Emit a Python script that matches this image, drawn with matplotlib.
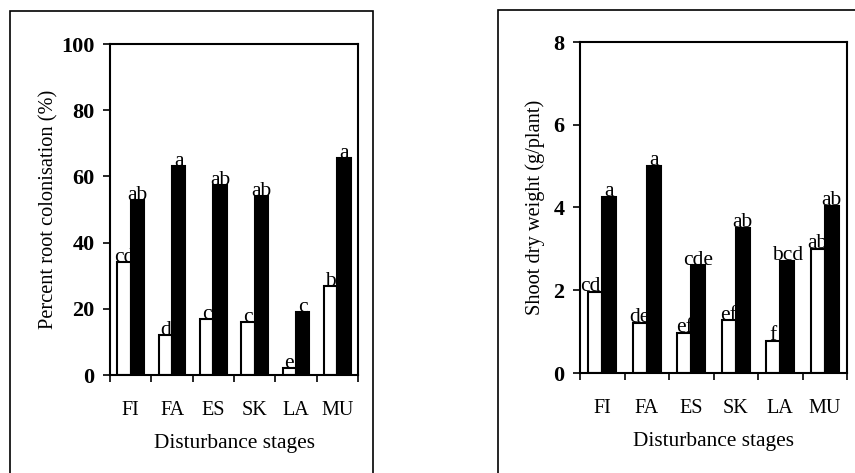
import numpy as np
import matplotlib.pyplot as plt
from matplotlib.patches import Rectangle

plt.rcParams['font.family'] = ['Liberation Serif', 'DejaVu Serif']

stages = ['FI', 'FA', 'ES', 'SK', 'LA', 'MU']

# left panel: root colonisation
col_open = [34, 12, 17, 16, 2, 27]
col_filled = [53, 63, 57.5, 54, 19, 65.5]
col_open_lab = ['cd', 'd', 'c', 'c', 'e', 'b']
col_filled_lab = ['ab', 'a', 'ab', 'ab', 'c', 'a']

# right panel: shoot dry weight
sdw_open = [1.95, 1.2, 0.97, 1.27, 0.78, 3.0]
sdw_filled = [4.25, 5.0, 2.6, 3.5, 2.7, 4.03]
sdw_open_lab = ['cde', 'de', 'ef', 'ef', 'f', 'ab']
sdw_filled_lab = ['a', 'a', 'cde', 'ab', 'bcd', 'ab']

fig = plt.figure(figsize=(8.55, 4.73), dpi=100)

# outer frames of the two panels
for x0, y0, w, h in [(10/855, -0.05, 363/855, 1 - 11/473 + 0.05),
                     (498/855, -0.05, 400/855, 1 - 10/473 + 0.05)]:
    fig.patches.append(Rectangle((x0, y0), w, h, transform=fig.transFigure,
                                 fill=False, lw=1.2, ec='black'))


def panel(rect, op, fi, oplab, filab, ymax, step, ylabel, offs, lpad):
    ax = fig.add_axes(rect)
    x = np.arange(len(stages))
    w = 0.32
    ax.bar(x + 0.18 + w/2, op, w, color='white', edgecolor='black', lw=1.5, zorder=2)
    ax.bar(x + 0.50 + w/2, fi, w, color='black', edgecolor='black', lw=1.5, zorder=2)
    for i in range(len(stages)):
        ax.text(x[i] + 0.18 + w/2, op[i] + offs, oplab[i], ha='center', va='bottom',
                fontsize=15.5, zorder=3)
        ax.text(x[i] + 0.50 + w/2, fi[i] + offs, filab[i], ha='center', va='bottom',
                fontsize=15.5, zorder=3)
    ax.set_xlim(0, len(stages))
    ax.set_ylim(0, ymax)
    ax.set_yticks(np.arange(0, ymax + step/2, step))
    ax.set_yticklabels([str(int(v)) for v in np.arange(0, ymax + step/2, step)],
                       fontweight='bold', fontsize=16)
    ax.set_xticks(np.arange(len(stages) + 1))
    ax.set_xticklabels([])
    ax.set_xticks(x + 0.5, minor=True)
    ax.set_xticklabels(stages, minor=True, fontsize=14.5)
    ax.tick_params(axis='x', which='minor', length=0, pad=19)
    ax.tick_params(axis='x', which='major', length=5, width=1.2)
    ax.tick_params(axis='y', length=5, width=1.2, pad=6)
    for s in ax.spines.values():
        s.set_linewidth(1.5)
    ax.set_ylabel(ylabel, fontsize=14.7, labelpad=lpad)
    ax.set_xlabel('Disturbance stages', fontsize=15.4, labelpad=10)
    return ax


panel([110/855, 1 - 375/473, 248/855, 331/473], col_open, col_filled,
      col_open_lab, col_filled_lab, 100, 20, 'Percent root colonisation (%)', -1.5, 2)
panel([580/855, 1 - 373/473, 267/855, 331/473], sdw_open, sdw_filled,
      sdw_open_lab, sdw_filled_lab, 8, 2, 'Shoot dry weight (g/plant)', -0.1, 6)

fig.savefig('out.png', dpi=100)
